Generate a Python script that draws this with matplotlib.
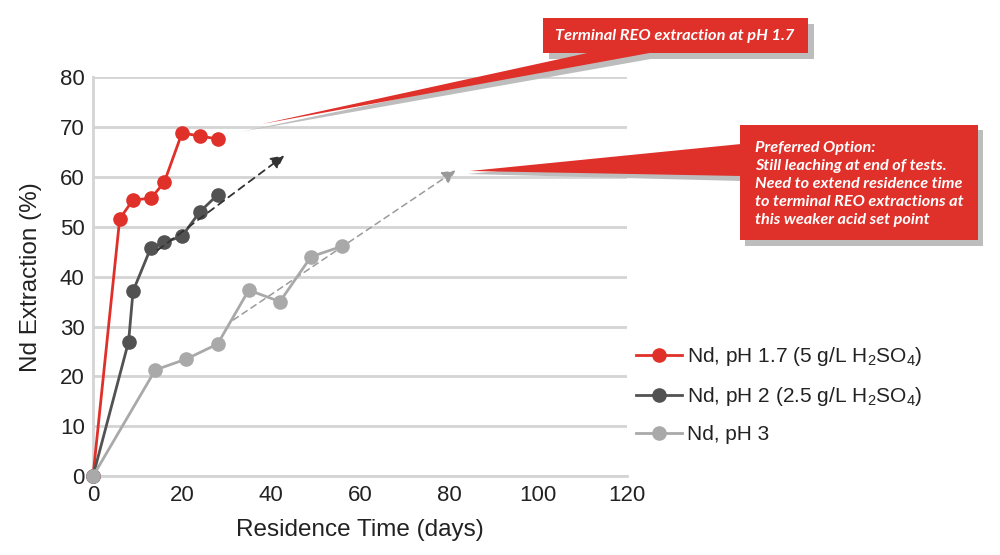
import matplotlib.pyplot as plt
from matplotlib.patches import Polygon

plt.rcParams['font.family'] = ['Liberation Sans', 'DejaVu Sans']
plt.rcParams['mathtext.fontset'] = 'custom'
plt.rcParams['mathtext.rm'] = 'Liberation Sans'

# datos
dias_ph17 = [0, 6, 9, 13, 16, 20, 24, 28]
nd_ph17 = [0, 51.6, 55.4, 55.7, 58.9, 68.8, 68.2, 67.6]

dias_ph2 = [0, 8, 9, 13, 16, 20, 24, 28]
nd_ph2 = [0, 27.0, 37.1, 45.8, 46.9, 48.1, 53.0, 56.4]

dias_ph3 = [0, 14, 21, 28, 35, 42, 49, 56]
nd_ph3 = [0, 21.3, 23.5, 26.5, 37.3, 35.0, 44.0, 46.1]

etiquetas = [r'Nd, pH 1.7 (5 g/L H$_2$SO$_4$)',
             r'Nd, pH 2 (2.5 g/L H$_2$SO$_4$)',
             'Nd, pH 3']

# tendencias (flechas punteadas)
tend_ph2 = [(14.5, 45.3), (43, 64.3)]
tend_ph3 = [(31.5, 31.3), (81.5, 61.3)]

rojo = '#e0302a'
oscuro = '#525252'
claro = '#a9a9a9'

fig = plt.figure(figsize=(10, 5.55), dpi=100)
ax = fig.add_axes([0.093, 0.142, 0.534, 0.719])

for d, v, c, lab in [(dias_ph17, nd_ph17, rojo, etiquetas[0]),
                     (dias_ph2, nd_ph2, oscuro, etiquetas[1]),
                     (dias_ph3, nd_ph3, claro, etiquetas[2])]:
    ax.plot(d, v, color=c, lw=2, marker='o', ms=9.5, label=lab, zorder=3, clip_on=False)

ax.annotate('', xy=tend_ph2[1], xytext=tend_ph2[0],
            arrowprops=dict(arrowstyle='-|>', color='#333333', lw=1.3, ls=(0, (4, 3)),
                            mutation_scale=20, shrinkA=0, shrinkB=0), zorder=4)
ax.annotate('', xy=tend_ph3[1], xytext=tend_ph3[0],
            arrowprops=dict(arrowstyle='-|>', color='#9a9a9a', lw=1.1, ls=(0, (4, 3)),
                            mutation_scale=20, shrinkA=0, shrinkB=0), zorder=2)

ax.set_xlim(0, 120)
ax.set_ylim(0, 80)
ax.set_xticks(range(0, 121, 20))
ax.set_yticks(range(0, 81, 10))
ax.grid(axis='y', color='#d4d4d4', lw=2)
ax.set_axisbelow(True)
for s in ['top', 'right']:
    ax.spines[s].set_visible(False)
ax.spines['left'].set_color('#d4d4d4')
ax.spines['left'].set_linewidth(2)
ax.spines['bottom'].set_color('#d4d4d4')
ax.spines['bottom'].set_linewidth(2)
ax.tick_params(length=0, labelsize=16, labelcolor='#222222', pad=6)
ax.set_xlabel('Residence Time (days)', fontsize=17.5, color='#222222', labelpad=10)
ax.set_ylabel('Nd Extraction (%)', fontsize=17.5, color='#222222', labelpad=13)

fig.legend(loc='upper left', bbox_to_anchor=(0.617, 0.412), frameon=False,
           fontsize=15, handlelength=2.2, labelspacing=0.82, handletextpad=0.25,
           labelcolor='#222222')


# llamadas (en pixeles de la figura)
def px(x, y):
    return (x / 1000, 1 - y / 555)


def poligono(puntos, color, z):
    fig.patches.append(Polygon([px(*p) for p in puntos], closed=True, transform=fig.transFigure,
                               facecolor=color, edgecolor='none', zorder=z))


sombra = '#bdbdbd'
# caja 1
poligono([(549, 24), (814, 24), (814, 59), (549, 59)], sombra, 1)
poligono([(598, 57), (662, 57), (240, 132)], sombra, 1)
poligono([(543, 18), (808, 18), (808, 53), (543, 53)], rojo, 2)
poligono([(592, 52), (655, 52), (262, 124)], rojo, 2)
fig.text(*px(675, 36), 'Terminal REO extraction at pH 1.7', family='Lato', weight='bold',
         style='italic', color='white', fontsize=11.8, ha='center', va='center')

# caja 2
poligono([(745, 130), (983, 130), (983, 246), (745, 246)], sombra, 1)
poligono([(742, 148), (742, 181), (467, 174)], sombra, 1)
poligono([(740, 125), (978, 125), (978, 240), (740, 240)], rojo, 2)
poligono([(741, 144), (741, 176), (470, 171)], rojo, 2)
fig.text(*px(755, 184), 'Preferred Option:\nStill leaching at end of tests.\n'
         'Need to extend residence time\nto terminal REO extractions at\n'
         'this weaker acid set point', family='Lato', weight='bold', style='italic',
         color='white', fontsize=11.7, ha='left', va='center', linespacing=1.38)

fig.savefig('out.png', dpi=100)
